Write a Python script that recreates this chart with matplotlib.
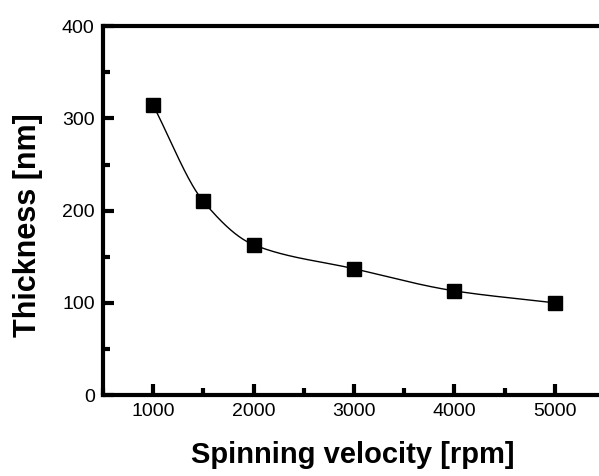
import numpy as np
import matplotlib.pyplot as plt
from matplotlib.ticker import MultipleLocator

velocity = np.array([1000, 1500, 2000, 3000, 4000, 5000])
thickness = np.array([314, 210, 163, 137, 113, 100])


def pchip(x, y, xs):
    # monotone cubic (Fritsch-Carlson), only used to draw the smooth guide line
    h = np.diff(x)
    d = np.diff(y) / h
    m = np.zeros_like(y)
    for i in range(1, len(x) - 1):
        if d[i - 1] * d[i] > 0:
            w1 = 2 * h[i] + h[i - 1]
            w2 = h[i] + 2 * h[i - 1]
            m[i] = (w1 + w2) / (w1 / d[i - 1] + w2 / d[i])
    m[0] = d[0]
    m[-1] = d[-1]
    idx = np.clip(np.searchsorted(x, xs) - 1, 0, len(x) - 2)
    hh = h[idx]
    t = (xs - x[idx]) / hh
    h00 = 2 * t ** 3 - 3 * t ** 2 + 1
    h10 = t ** 3 - 2 * t ** 2 + t
    h01 = -2 * t ** 3 + 3 * t ** 2
    h11 = t ** 3 - t ** 2
    return h00 * y[idx] + h10 * hh * m[idx] + h01 * y[idx + 1] + h11 * hh * m[idx + 1]


plt.rcParams['font.family'] = ['Liberation Sans', 'DejaVu Sans']

fig = plt.figure(figsize=(5.99, 4.76), dpi=100)
ax = fig.add_axes([0.172, 0.170, 0.838, 0.775])

xs = np.linspace(velocity[0], velocity[-1], 400)
ax.plot(xs, pchip(velocity.astype(float), thickness.astype(float), xs),
        color='black', lw=1.0)
ax.plot(velocity, thickness, 's', color='black', ms=10)

ax.set_xlim(500, 5500)
ax.set_ylim(0, 400)
ax.set_xticks([1000, 2000, 3000, 4000, 5000])
ax.xaxis.set_minor_locator(MultipleLocator(500))
ax.yaxis.set_major_locator(MultipleLocator(100))
ax.yaxis.set_minor_locator(MultipleLocator(50))

ax.tick_params(which='major', direction='in', length=8, width=3, labelsize=14, pad=6)
ax.tick_params(which='minor', direction='in', length=5, width=3)
for s in ax.spines.values():
    s.set_linewidth(3)

ax.set_xlabel('Spinning velocity [rpm]', fontsize=21, fontweight='bold')
ax.set_ylabel('Thickness [nm]', fontsize=22, fontweight='bold')
ax.xaxis.set_label_coords((353 - 103) / 502, -(455 - 395) / 369)
ax.yaxis.set_label_coords(-(103 - 28) / 502, (395 - 225) / 369)
ax.xaxis.label.set_va('center')
ax.yaxis.label.set_va('center')

fig.savefig('out.png', dpi=100)
